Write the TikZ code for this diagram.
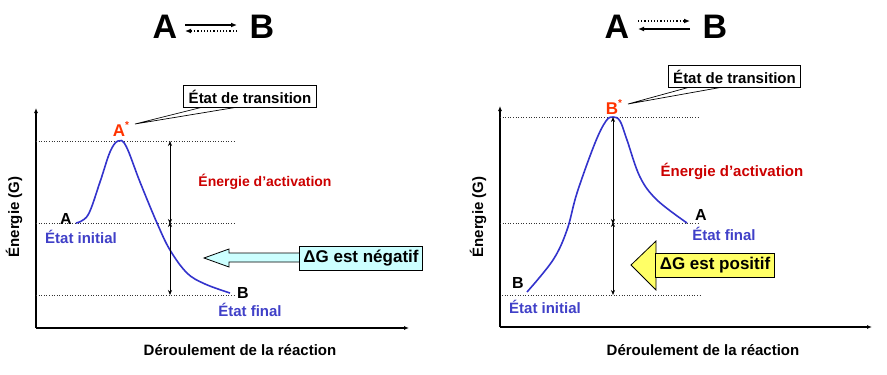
\documentclass[tikz,border=0pt]{standalone}
\usepackage{fontspec}
\setmainfont{Liberation Sans}
\usetikzlibrary{arrows.meta}
\definecolor{curveblue}{HTML}{3333CC}
\definecolor{lblblue}{HTML}{4040C8}
\definecolor{starred}{HTML}{FF3300}
\definecolor{actred}{HTML}{CC0000}
\definecolor{cyanfill}{HTML}{CCFFFF}
\definecolor{yelfill}{HTML}{FFFF66}
\tikzset{
  lbl/.style={font=\fontsize{15}{17}\selectfont\bfseries, inner sep=0pt},
  letter/.style={font=\fontsize{16}{18}\selectfont\bfseries, inner sep=0pt},
  bluelbl/.style={lbl, text=lblblue},
  title/.style={font=\fontsize{34}{36}\selectfont\bfseries, inner sep=0pt},
  axis/.style={line width=1.1pt, -{Latex[length=5pt,width=4pt]}},
  level/.style={dotted, line width=0.6pt, black!80},
  curve/.style={line width=1.6pt, curveblue},
  dblarrow/.style={line width=0.7pt, {Stealth[length=5pt,width=4pt]}-{Stealth[length=5pt,width=4pt]}},
  callbox/.style={draw, fill=white, line width=0.8pt, font=\fontsize{15}{17}\selectfont\bfseries, inner xsep=5pt, inner ysep=4pt},
  dgbox/.style={draw, line width=0.8pt, font=\fontsize{17}{19}\selectfont\bfseries, inner xsep=4pt, inner ysep=4pt},
  ttl/.style={line width=1.2pt, -{Latex[length=6pt,width=5pt]}},
  ttldot/.style={line width=1.2pt, dotted, -{Latex[length=6pt,width=5pt]}},
}
\begin{document}
\begin{tikzpicture}[x=1pt,y=-1pt]
\useasboundingbox (0,0) rectangle (887,375);
\fill[white] (0,0) rectangle (887,375);

% ---------------- Left panel ----------------
\node[title] (tA1) at (165,27) {A};
\node[title] (tB1) at (262,27) {B};
\coordinate (l1a) at (185,25); \coordinate (l1b) at (237,25);
\coordinate (l2a) at (237,31); \coordinate (l2b) at (185,31);
\draw[ttl] (l1a) -- (l1b);
\draw[ttldot] (l2a) -- (l2b);

\coordinate (O1) at (36,328);
\coordinate (Y1) at (36,108);
\coordinate (X1) at (409,328);
\draw[axis] (O1) -- (Y1);
\draw[axis] (O1) -- (X1);

\coordinate (t1L) at (36,141); \coordinate (t1R) at (236,141);
\coordinate (m1L) at (36,223); \coordinate (m1R) at (236,223);
\coordinate (b1L) at (36,295); \coordinate (b1R) at (236,295);
\draw[level] (t1L) -- (t1R);
\draw[level] (m1L) -- (m1R);
\draw[level] (b1L) -- (b1R);

\draw[curve] plot[smooth, tension=0.6] coordinates {(76,223) (88,215) (100,182) (110,152) (118,141) (126,146) (140,182) (157,223) (170,250) (187,273) (205,284) (230,293)};

\coordinate (v1t) at (170,141); \coordinate (v1m) at (170,223); \coordinate (v1b) at (170,295);
\draw[dblarrow] (v1t) -- ([yshift=-1]v1m);
\draw[dblarrow] ([yshift=1]v1m) -- (v1b);

\node[letter] (A1) at (66,219) {A};
\node[bluelbl] (ei1) at (81,237) {État initial};
\node[letter] (B1) at (243,293) {B};
\node[bluelbl] (ef1) at (250,310) {État final};
\node[letter, text=starred, font=\fontsize{17}{19}\selectfont\bfseries] (As) at (121,129) {A\raisebox{0.45em}{\fontsize{10}{10}\selectfont *}};
\node[lbl, text=actred, font=\fontsize{14}{16}\selectfont\bfseries] (ea1) at (265,182) {Énergie d’activation};
\node[lbl, rotate=90] (en1) at (14,217) {Énergie (G)};
\node[lbl] (dr1) at (240,350) {Déroulement de la réaction};

\coordinate (c1tip) at (135,124);
\coordinate (c1p) at (203,107); \coordinate (c1q) at (238,107);
\filldraw[fill=white, line width=0.7pt] (c1tip) -- (c1p) -- (c1q) -- cycle;
\node[callbox] (et1) at (250,96.5) {État de transition};

\draw[fill=cyanfill, line width=0.8pt] (204,258) -- (229,249) -- (229,253) -- (302,253) -- (302,262) -- (229,262) -- (229,267) -- cycle;
\node[dgbox, fill=cyanfill] (dg1) at (361,258) {ΔG est négatif};

% ---------------- Right panel ----------------
\node[title] (tA2) at (617,27) {A};
\node[title] (tB2) at (715,27) {B};
\coordinate (r1a) at (638,21); \coordinate (r1b) at (690,21);
\coordinate (r2a) at (690,29); \coordinate (r2b) at (638,29);
\draw[ttldot] (r1a) -- (r1b);
\draw[ttl] (r2a) -- (r2b);

\coordinate (O2) at (500,327);
\coordinate (Y2) at (500,106);
\coordinate (X2) at (872,327);
\draw[axis] (O2) -- (Y2);
\draw[axis] (O2) -- (X2);

\coordinate (t2L) at (500,117); \coordinate (t2R) at (700,117);
\coordinate (m2L) at (500,223); \coordinate (m2R) at (700,223);
\coordinate (b2L) at (502,295); \coordinate (b2R) at (700,295);
\draw[level] (t2L) -- (t2R);
\draw[level] (m2L) -- (m2R);
\draw[level] (b2L) -- (b2R);

\draw[curve] plot[smooth, tension=0.6] coordinates {(527,292) (553,260) (567,230) (577,193) (595,143) (606,121) (613,117) (620,121) (627,140) (640,177) (657,200) (687,223)};

\coordinate (v2t) at (613,117); \coordinate (v2m) at (613,223); \coordinate (v2b) at (613,295);
\draw[dblarrow] (v2t) -- ([yshift=-1]v2m);
\draw[dblarrow] ([yshift=1]v2m) -- (v2b);

\node[letter] (A2) at (701,215) {A};
\node[bluelbl] (ef2) at (724,234) {État final};
\node[letter] (B2) at (518,283) {B};
\node[bluelbl] (ei2) at (545,307) {État initial};
\node[letter, text=starred, font=\fontsize{17}{19}\selectfont\bfseries] (Bs) at (614,107) {B\raisebox{0.45em}{\fontsize{10}{10}\selectfont *}};
\node[lbl, text=actred] (ea2) at (732,171) {Énergie d’activation};
\node[lbl, rotate=90] (en2) at (478,217) {Énergie (G)};
\node[lbl] (dr2) at (703,350) {Déroulement de la réaction};

\coordinate (c2tip) at (628,104);
\coordinate (c2p) at (690,87); \coordinate (c2q) at (723,87);
\filldraw[fill=white, line width=0.7pt] (c2tip) -- (c2p) -- (c2q) -- cycle;
\node[callbox] (et2) at (734.5,76.5) {État de transition};

\draw[fill=yelfill, line width=0.8pt] (631,265) -- (656,241) -- (656,290) -- cycle;
\node[dgbox, fill=yelfill] (dg2) at (715,265.5) {ΔG est positif};
\end{tikzpicture}
\end{document}
